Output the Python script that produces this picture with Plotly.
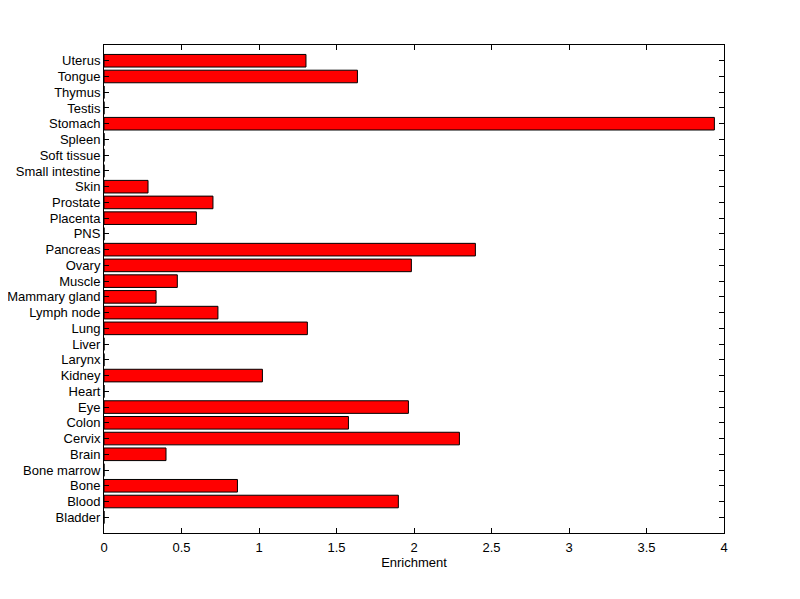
import plotly.graph_objects as go

tissues = ["Bladder", "Blood", "Bone", "Bone marrow", "Brain", "Cervix", "Colon", "Eye",
           "Heart", "Kidney", "Larynx", "Liver", "Lung", "Lymph node", "Mammary gland",
           "Muscle", "Ovary", "Pancreas", "PNS", "Placenta", "Prostate", "Skin",
           "Small intestine", "Soft tissue", "Spleen", "Stomach", "Testis", "Thymus",
           "Tongue", "Uterus"]
enrichment = [0, 1.899, 0.861, 0, 0.400, 2.293, 1.577, 1.964,
              0, 1.022, 0, 0, 1.312, 0.735, 0.336,
              0.473, 1.983, 2.396, 0, 0.596, 0.703, 0.284,
              0, 0, 0, 3.938, 0, 0,
              1.635, 1.303]
x_ticks = [0, 0.5, 1, 1.5, 2, 2.5, 3, 3.5, 4]
x_title = "Enrichment"

positions = list(range(len(tissues)))

fig = go.Figure(go.Bar(
    x=enrichment, y=positions, orientation="h", width=0.8,
    marker=dict(color="#ff0000", line=dict(color="black", width=1)),
))

font = dict(family="Liberation Sans, Arial, sans-serif", size=13, color="black")
fig.update_layout(
    width=800, height=599,
    margin=dict(l=96, r=84, t=37, b=74),
    paper_bgcolor="white", plot_bgcolor="white",
    font=font, showlegend=False,
    xaxis=dict(range=[0, 4], tickvals=x_ticks, ticktext=[f"{v:g}" for v in x_ticks],
               ticks="inside", ticklen=5, tickcolor="black", showline=True,
               linecolor="black", linewidth=1, mirror="ticks", showgrid=False,
               zeroline=False, automargin=False, ticklabelstandoff=2,
               title=dict(text=x_title, standoff=2, font=font)),
    yaxis=dict(range=[-1, len(tissues)], tickvals=positions, ticktext=tissues,
               ticks="inside", ticklen=5, tickcolor="black", showline=True,
               linecolor="black", linewidth=1, mirror="ticks", showgrid=False,
               zeroline=False, automargin=False),
)

fig.write_html("out.html")
